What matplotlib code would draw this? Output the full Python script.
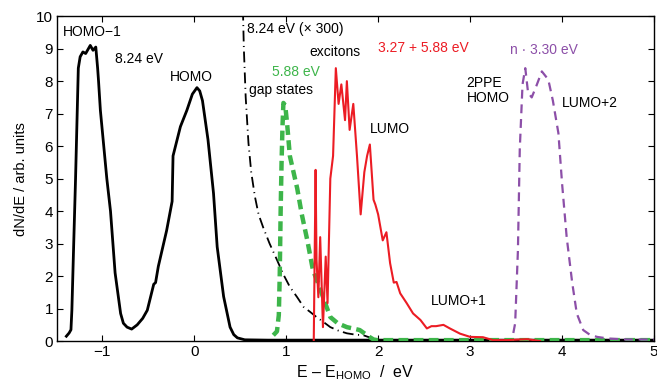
import matplotlib
matplotlib.use("Agg")
import matplotlib.pyplot as plt

plt.rcParams['font.family'] = ['Liberation Sans', 'DejaVu Sans']
plt.rcParams['mathtext.fontset'] = 'custom'
plt.rcParams['mathtext.rm'] = 'Liberation Sans'
plt.rcParams['mathtext.it'] = 'Liberation Sans:italic'

# Photoemission spectra: valence band (8.24 eV)
homo_x = [-1.39, -1.36, -1.34, -1.33, -1.31, -1.29, -1.26, -1.24, -1.21, -1.18, -1.15,
          -1.13, -1.10, -1.07, -1.05, -1.04, -1.02, -0.99, -0.95, -0.91, -0.86, -0.80,
          -0.77, -0.73, -0.68, -0.62, -0.56, -0.51, -0.44, -0.42, -0.39, -0.30, -0.24,
          -0.23, -0.15, -0.08, -0.02, 0.03, 0.06, 0.09, 0.15, 0.21, 0.25, 0.32, 0.39,
          0.43, 0.47, 0.55, 0.8, 1.0, 1.5, 2.0, 3.0, 4.0, 5.0]
homo_y = [0.15, 0.25, 0.35, 0.95, 3.0, 5.0, 8.4, 8.75, 8.9, 8.85, 9.0,
          9.1, 8.95, 9.05, 8.4, 8.0, 7.1, 6.2, 5.0, 4.0, 2.1, 0.85,
          0.55, 0.43, 0.37, 0.5, 0.7, 0.95, 1.75, 1.8, 2.3, 3.4, 4.3,
          5.7, 6.6, 7.1, 7.6, 7.8, 7.7, 7.4, 6.2, 4.55, 2.9, 1.37, 0.43,
          0.2, 0.1, 0.04, 0.03, 0.03, 0.03, 0.03, 0.03, 0.03, 0.03]

# 8.24 eV, scaled x300
scaled_x = [0.53, 0.54, 0.56, 0.59, 0.62, 0.66, 0.70, 0.75, 0.82, 0.90, 0.97, 1.04,
            1.12, 1.19, 1.26, 1.33, 1.40, 1.48, 1.57, 1.66, 1.75, 1.84, 1.92, 1.99]
scaled_y = [10.2, 9.0, 7.5, 6.1, 5.2, 4.45, 3.9, 3.5, 3.0, 2.5, 2.05, 1.67,
            1.35, 1.05, 0.9, 0.74, 0.6, 0.43, 0.32, 0.24, 0.2, 0.18, 0.1, 0.03]

# 5.88 eV gap states
gap_x = [0.86, 0.90, 0.92, 0.93, 0.94, 0.95, 0.96, 0.97, 0.99, 1.01, 1.04, 1.08, 1.12,
         1.17, 1.23, 1.29, 1.37, 1.44, 1.48, 1.56, 1.66, 1.74, 1.80, 1.86, 1.91, 1.95,
         1.99, 2.5, 3.0, 3.5, 4.0, 4.5, 5.0]
gap_y = [0.18, 0.3, 0.8, 2.0, 4.0, 5.5, 6.6, 7.33, 7.25, 6.7, 5.7, 5.2, 4.7,
         3.9, 3.1, 2.2, 1.6, 1.05, 0.74, 0.55, 0.43, 0.38, 0.34, 0.22, 0.12, 0.05,
         0.03, 0.03, 0.03, 0.03, 0.03, 0.03, 0.03]

# 3.27 + 5.88 eV two-colour spectrum
exc_x = [1.30, 1.32, 1.33, 1.35, 1.37, 1.40, 1.43, 1.45, 1.48, 1.51, 1.54, 1.57,
         1.60, 1.64, 1.66, 1.69, 1.73, 1.77, 1.81, 1.85, 1.88, 1.91, 1.95, 1.97, 2.00,
         2.05, 2.09, 2.13, 2.17, 2.20, 2.24, 2.31, 2.38, 2.46, 2.53, 2.58, 2.63, 2.71,
         2.78, 2.89, 3.00, 3.14, 3.25, 3.40, 3.62, 3.76]
exc_y = [0.0, 5.27, 2.5, 1.35, 3.2, 0.43, 2.6, 1.17, 5.0, 5.7, 8.4, 7.3,
         7.9, 6.8, 8.0, 6.5, 7.3, 5.7, 3.9, 5.2, 5.7, 6.05, 4.35, 4.2, 3.9,
         3.1, 3.35, 2.4, 1.8, 1.82, 1.47, 1.17, 0.85, 0.65, 0.39, 0.46, 0.46, 0.5,
         0.39, 0.23, 0.13, 0.12, 0.03, 0.03, 0.06, 0.0]

# n * 3.30 eV (2PPE)
tppe_x = [3.47, 3.49, 3.52, 3.54, 3.57, 3.60, 3.63, 3.67, 3.72, 3.78, 3.85, 3.90,
          3.96, 4.00, 4.05, 4.11, 4.16, 4.23, 4.30, 4.38, 4.5, 4.7, 5.0]
tppe_y = [0.25, 0.55, 2.8, 5.9, 7.9, 8.4, 7.65, 7.5, 7.85, 8.3, 8.05, 7.4,
          6.4, 4.85, 3.2, 1.8, 0.85, 0.34, 0.2, 0.13, 0.08, 0.05, 0.05]

x_ticks = [-1, 0, 1, 2, 3, 4, 5]
y_ticks = list(range(0, 11))

RED = '#ec1c24'
GREEN = '#3db54a'
PURPLE = '#8c4fa8'

fig = plt.figure(figsize=(6.57, 3.85), dpi=100)
ax = fig.add_axes([0.087, 0.114, 0.9085, 0.844])

ax.plot(scaled_x, scaled_y, color='black', lw=1.3, dashes=(6, 2.5, 0.6, 2.5), zorder=3)
ax.plot(gap_x, gap_y, color=GREEN, lw=3.2, dashes=(2.2, 1.2), zorder=4)
ax.plot(homo_x, homo_y, color='black', lw=2.0, zorder=3)
ax.plot(exc_x, exc_y, color=RED, lw=1.5, zorder=5)
ax.plot(tppe_x, tppe_y, color=PURPLE, lw=1.6, dashes=(4, 2.6), zorder=5)

ax.set_xlim(-1.49, 5.0)
ax.set_ylim(0, 10)
ax.set_xticks(x_ticks)
ax.set_xticklabels([str(t).replace('-', '\u2212') for t in x_ticks])
ax.set_yticks(y_ticks)
ax.tick_params(direction='in', top=True, right=True, length=4, width=0.8,
               labelsize=11, pad=3)
for s in ax.spines.values():
    s.set_linewidth(1.0)

ax.set_xlabel('E \u2013 E$_\\mathrm{HOMO}$  /  eV', fontsize=11.5, labelpad=3)
ax.set_ylabel('dN/dE / arb. units', fontsize=10.5, labelpad=6)

fs = 10
ax.text(-1.43, 9.5, 'HOMO\u22121', fontsize=fs, va='center', ha='left')
ax.text(-0.86, 8.69, '8.24 eV', fontsize=fs, va='center', ha='left')
ax.text(-0.26, 8.14, 'HOMO', fontsize=fs, va='center', ha='left')
ax.text(0.57, 9.6, '8.24 eV (\u00d7 300)', fontsize=fs, va='center', ha='left')
ax.text(0.85, 8.29, '5.88 eV', fontsize=fs, va='center', ha='left', color=GREEN)
ax.text(0.60, 7.73, 'gap states', fontsize=fs, va='center', ha='left')
ax.text(1.25, 8.9, 'excitons', fontsize=fs, va='center', ha='left')
ax.text(2.0, 9.03, '3.27 + 5.88 eV', fontsize=fs, va='center', ha='left', color=RED)
ax.text(3.43, 8.97, 'n \u00b7 3.30 eV', fontsize=fs, va='center', ha='left', color=PURPLE)
ax.text(2.96, 7.7, '2PPE\nHOMO', fontsize=fs, va='center', ha='left', linespacing=1.1)
ax.text(4.0, 7.33, 'LUMO+2', fontsize=fs, va='center', ha='left')
ax.text(1.91, 6.53, 'LUMO', fontsize=fs, va='center', ha='left')
ax.text(2.57, 1.23, 'LUMO+1', fontsize=fs, va='center', ha='left')

fig.savefig('out.png', dpi=100)
